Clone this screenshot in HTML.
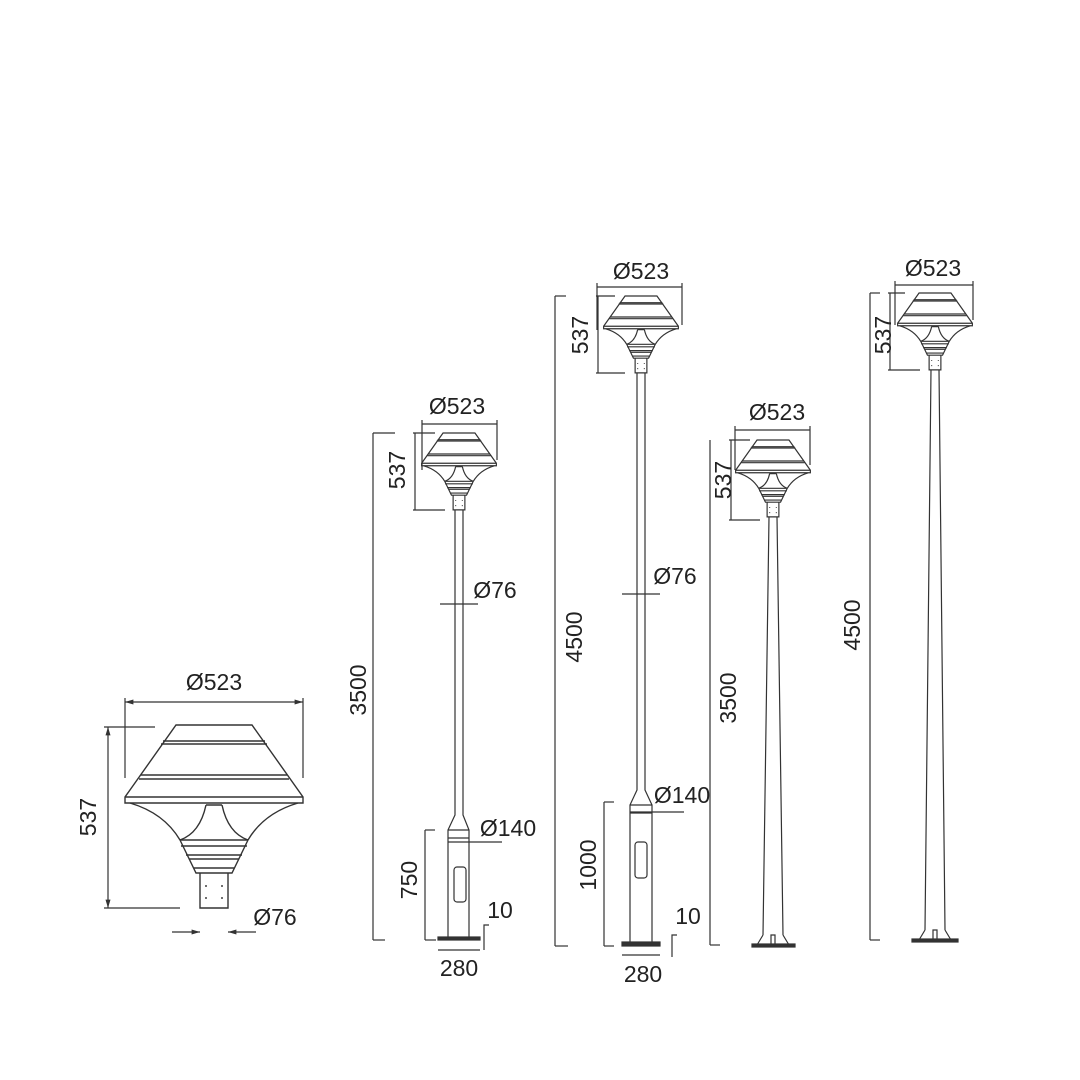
<!DOCTYPE html>
<html><head><meta charset="utf-8"><style>
html,body{margin:0;padding:0;background:#fff}
svg{display:block}
text{font-family:"Liberation Sans",sans-serif;fill:#222;font-size:23px}
</style></head><body>
<svg width="1080" height="1080" viewBox="0 0 1080 1080" xmlns="http://www.w3.org/2000/svg">
<defs>
<marker id="a" viewBox="0 0 10 10" refX="10" refY="5" markerWidth="7" markerHeight="7" orient="auto-start-reverse"><path d="M0,2 L10,5 L0,8z" fill="#333"/></marker>
<g id="lamp" fill="none" stroke="#333">
<path d="M-38,0 L38,0 L89,72 L89,78 L-89,78 L-89,72 Z"/>
<path d="M-89,72 L89,72"/>
<path d="M-51,16 L51,16 M-53,19 L53,19"/>
<path d="M-73,50 L73,50 M-75,54 L75,54"/>
<path d="M-84,78 Q-50,88 -34,115 M84,78 Q50,88 34,115"/>
<path d="M-8,80 L8,80 M-8,80 Q-14,108 -34,115 M8,80 Q14,108 34,115"/>
<path d="M-34,115 L34,115 M-33,121 L33,121 M-28,130 L28,130 M-25,134 L25,134 M-20,143 L20,143"/>
<path d="M-34,115 L-18,148 L18,148 L34,115"/>
<path d="M-14,148 L-14,183 L14,183 L14,148"/>
<path d="M-8,160 v2 M8,160 v2 M-8,172 v2 M8,172 v2"/>
</g>
</defs>

<g stroke="#333" stroke-width="1.2" fill="none">
<!-- Large lamp -->
<use href="#lamp" transform="translate(214,725)" stroke-width="1.4"/>
<line x1="125" y1="702" x2="303" y2="702" marker-start="url(#a)" marker-end="url(#a)"/>
<line x1="125" y1="698" x2="125" y2="778"/><line x1="303" y1="698" x2="303" y2="778"/>
<line x1="108" y1="727" x2="108" y2="908" marker-start="url(#a)" marker-end="url(#a)"/>
<line x1="104" y1="727" x2="155" y2="727"/><line x1="104" y1="908" x2="180" y2="908"/>
<line x1="172" y1="932" x2="200" y2="932" marker-end="url(#a)"/>
<line x1="256" y1="932" x2="228" y2="932" marker-end="url(#a)"/>

<!-- Pole 1 -->
<use href="#lamp" transform="translate(459,433) scale(0.42)" stroke-width="2.8"/>
<path d="M455,510 L455,815 L448,830 L448,938 M463,510 L463,815 L469,830 L469,938 M448,830 L469,830 M448,838 L469,838"/>
<rect x="454" y="867" width="12" height="35" rx="3"/>
<rect x="438" y="937" width="42" height="3" fill="#333"/>
<line x1="422" y1="424" x2="497" y2="424"/><line x1="422" y1="420" x2="422" y2="470"/><line x1="497" y1="420" x2="497" y2="460"/>
<line x1="415" y1="433" x2="415" y2="510"/><line x1="413" y1="433" x2="435" y2="433"/><line x1="413" y1="510" x2="445" y2="510"/>
<line x1="373" y1="433" x2="373" y2="940"/><line x1="373" y1="433" x2="395" y2="433"/><line x1="373" y1="940" x2="385" y2="940"/>
<line x1="440" y1="604" x2="478" y2="604"/>
<line x1="448" y1="842" x2="502" y2="842"/>
<line x1="425" y1="830" x2="425" y2="940"/><line x1="425" y1="830" x2="435" y2="830"/><line x1="425" y1="940" x2="436" y2="940"/>
<line x1="438" y1="950" x2="480" y2="950"/>
<path d="M489,925 L484,925 L484,950"/>

<!-- Pole 2 -->
<use href="#lamp" transform="translate(641,296) scale(0.42)" stroke-width="2.8"/>
<path d="M637,373 L637,790 L630,805 L630,943 M645,373 L645,790 L652,805 L652,943 M630,805 L652,805 M630,813 L652,813"/>
<rect x="635" y="842" width="12" height="36" rx="3"/>
<rect x="622" y="942" width="38" height="4" fill="#333"/>
<line x1="597" y1="287" x2="682" y2="287"/><line x1="597" y1="283" x2="597" y2="330"/><line x1="682" y1="283" x2="682" y2="325"/>
<line x1="598" y1="296" x2="598" y2="373"/><line x1="596" y1="296" x2="615" y2="296"/><line x1="596" y1="373" x2="625" y2="373"/>
<line x1="555" y1="296" x2="555" y2="946"/><line x1="555" y1="296" x2="566" y2="296"/><line x1="555" y1="946" x2="568" y2="946"/>
<line x1="622" y1="594" x2="660" y2="594"/>
<line x1="630" y1="812" x2="684" y2="812"/>
<line x1="604" y1="802" x2="604" y2="946"/><line x1="604" y1="802" x2="614" y2="802"/><line x1="604" y1="946" x2="614" y2="946"/>
<line x1="622" y1="955" x2="660" y2="955"/>
<path d="M677,935 L672,935 L672,957"/>

<!-- Pole 3 -->
<use href="#lamp" transform="translate(773,440) scale(0.42)" stroke-width="2.8"/>
<path d="M769,517 L763,935 M777,517 L783,935 M763,935 L757,945 M783,935 L789,945 M771,945 L771,935 L775,935 L775,945"/>
<rect x="752" y="944" width="43" height="3" fill="#333"/>
<line x1="735" y1="430" x2="810" y2="430"/><line x1="735" y1="426" x2="735" y2="470"/><line x1="810" y1="426" x2="810" y2="465"/>
<line x1="731" y1="440" x2="731" y2="520"/><line x1="729" y1="440" x2="750" y2="440"/><line x1="729" y1="520" x2="760" y2="520"/>
<line x1="710" y1="440" x2="710" y2="945"/><line x1="710" y1="945" x2="720" y2="945"/>

<!-- Pole 4 -->
<use href="#lamp" transform="translate(935,293) scale(0.42)" stroke-width="2.8"/>
<path d="M931,370 L925,930 M939,370 L945,930 M925,930 L919,940 M945,930 L951,940 M933,940 L933,930 L937,930 L937,940"/>
<rect x="912" y="939" width="46" height="3" fill="#333"/>
<line x1="895" y1="285" x2="973" y2="285"/><line x1="895" y1="281" x2="895" y2="325"/><line x1="973" y1="281" x2="973" y2="320"/>
<line x1="890" y1="293" x2="890" y2="370"/><line x1="888" y1="293" x2="905" y2="293"/><line x1="888" y1="370" x2="920" y2="370"/>
<line x1="870" y1="293" x2="870" y2="940"/><line x1="870" y1="293" x2="880" y2="293"/><line x1="870" y1="940" x2="880" y2="940"/>
</g>

<g>
<text x="214" y="690" text-anchor="middle">Ø523</text>
<text transform="translate(96,817) rotate(-90)" text-anchor="middle">537</text>
<text x="275" y="925" text-anchor="middle">Ø76</text>

<text x="457" y="414" text-anchor="middle">Ø523</text>
<text transform="translate(405,470) rotate(-90)" text-anchor="middle">537</text>
<text transform="translate(366,690) rotate(-90)" text-anchor="middle">3500</text>
<text x="495" y="598" text-anchor="middle">Ø76</text>
<text x="508" y="836" text-anchor="middle">Ø140</text>
<text transform="translate(417,880) rotate(-90)" text-anchor="middle">750</text>
<text x="500" y="918" text-anchor="middle">10</text>
<text x="459" y="976" text-anchor="middle">280</text>

<text x="641" y="279" text-anchor="middle">Ø523</text>
<text transform="translate(588,335) rotate(-90)" text-anchor="middle">537</text>
<text transform="translate(582,637) rotate(-90)" text-anchor="middle">4500</text>
<text x="675" y="584" text-anchor="middle">Ø76</text>
<text x="682" y="803" text-anchor="middle">Ø140</text>
<text transform="translate(596,865) rotate(-90)" text-anchor="middle">1000</text>
<text x="688" y="924" text-anchor="middle">10</text>
<text x="643" y="982" text-anchor="middle">280</text>

<text x="777" y="420" text-anchor="middle">Ø523</text>
<text transform="translate(731,480) rotate(-90)" text-anchor="middle">537</text>
<text transform="translate(736,698) rotate(-90)" text-anchor="middle">3500</text>

<text x="933" y="276" text-anchor="middle">Ø523</text>
<text transform="translate(891,335) rotate(-90)" text-anchor="middle">537</text>
<text transform="translate(860,625) rotate(-90)" text-anchor="middle">4500</text>
</g>
</svg>
</body></html>
